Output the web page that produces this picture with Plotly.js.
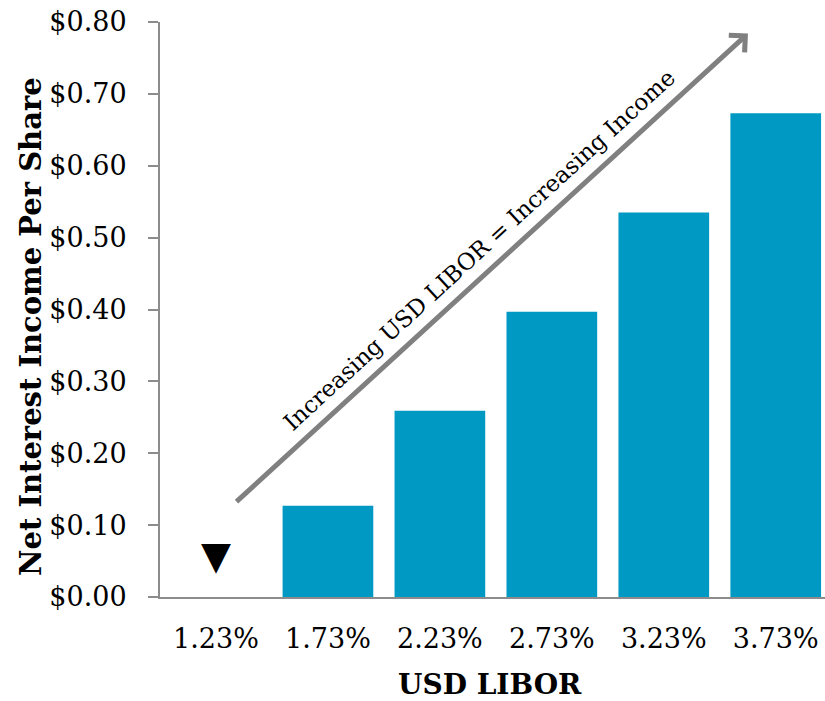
<!DOCTYPE html>
<html>
<head>
<meta charset="utf-8">
<script src="https://cdn.plot.ly/plotly-3.0.1.min.js"></script>
<style>html,body{margin:0;padding:0;background:#fff;overflow:hidden;}</style>
</head>
<body>
<div id="chart" style="width:825px;height:701px;"></div>
<script>
const categories = ["1.23%", "1.73%", "2.23%", "2.73%", "3.23%", "3.73%"];
const netInterestIncome = [0, 0.127, 0.259, 0.397, 0.535, 0.673];
const yTickValues = [0, 0.1, 0.2, 0.3, 0.4, 0.5, 0.6, 0.7, 0.8];
const yTickLabels = ["$0.00", "$0.10", "$0.20", "$0.30", "$0.40", "$0.50", "$0.60", "$0.70", "$0.80"];
const currentCategory = ["1.23%"];
const currentMarkerValue = [0.052];
const currentMarkerText = ["▼"];
const arrowLabel = "Increasing USD LIBOR = Increasing Income";
const yTitle = "Net Interest Income Per Share";
const xTitle = "USD LIBOR";

const serif = "DejaVu Serif, Liberation Serif, serif";

const traces = [
  {
    type: "bar",
    x: categories,
    y: netInterestIncome,
    marker: {color: "#0099C4"},
    hoverinfo: "x+y"
  },
  {
    type: "scatter",
    mode: "text",
    x: currentCategory,
    y: currentMarkerValue,
    text: currentMarkerText,
    textposition: "middle center",
    textfont: {family: "DejaVu Sans", size: 39, color: "#000"},
    hoverinfo: "skip"
  }
];

const layout = {
  width: 825,
  height: 701,
  margin: {l: 160, r: 0, t: 22, b: 104},
  showlegend: false,
  bargap: 0.19,
  paper_bgcolor: "#fff",
  plot_bgcolor: "#fff",
  font: {family: serif, color: "#000"},
  xaxis: {
    type: "category",
    range: [-0.5, 5.44],
    showgrid: false,
    zeroline: false,
    showline: true,
    linecolor: "#8c8c8c",
    linewidth: 2,
    ticks: "",
    ticklabelstandoff: 17,
    tickfont: {family: serif, size: 27, color: "#000"}
  },
  yaxis: {
    range: [0, 0.8],
    tickvals: yTickValues,
    ticktext: yTickLabels,
    showgrid: false,
    zeroline: false,
    showline: true,
    linecolor: "#8c8c8c",
    linewidth: 2,
    ticks: "outside",
    ticklen: 10,
    tickwidth: 2,
    tickcolor: "#8c8c8c",
    ticklabelstandoff: 16,
    tickfont: {family: serif, size: 27, color: "#000"}
  },
  annotations: [
    {
      xref: "x", yref: "y", axref: "x", ayref: "y",
      x: 4.752, y: 0.784,
      ax: 0.17, ay: 0.1307,
      text: "",
      showarrow: true,
      arrowhead: 4,
      arrowsize: 0.9,
      arrowwidth: 5,
      arrowcolor: "#808080"
    },
    {
      xref: "x", yref: "y",
      x: 2.35, y: 0.4826,
      text: arrowLabel,
      showarrow: false,
      textangle: -42.5,
      font: {family: serif, size: 23, color: "#000"}
    },
    {
      xref: "paper", yref: "paper",
      x: -0.195, y: 0.47,
      xanchor: "center", yanchor: "middle",
      text: "<b>" + yTitle + "</b>",
      showarrow: false,
      textangle: -90,
      font: {family: serif, size: 29, color: "#000"}
    },
    {
      xref: "paper", yref: "paper",
      x: 0.496, y: -0.152,
      xanchor: "center", yanchor: "middle",
      text: "<b>" + xTitle + "</b>",
      showarrow: false,
      font: {family: serif, size: 28, color: "#000"}
    }
  ]
};

Plotly.newPlot("chart", traces, layout, {displayModeBar: false, staticPlot: true});
</script>
</body>
</html>
